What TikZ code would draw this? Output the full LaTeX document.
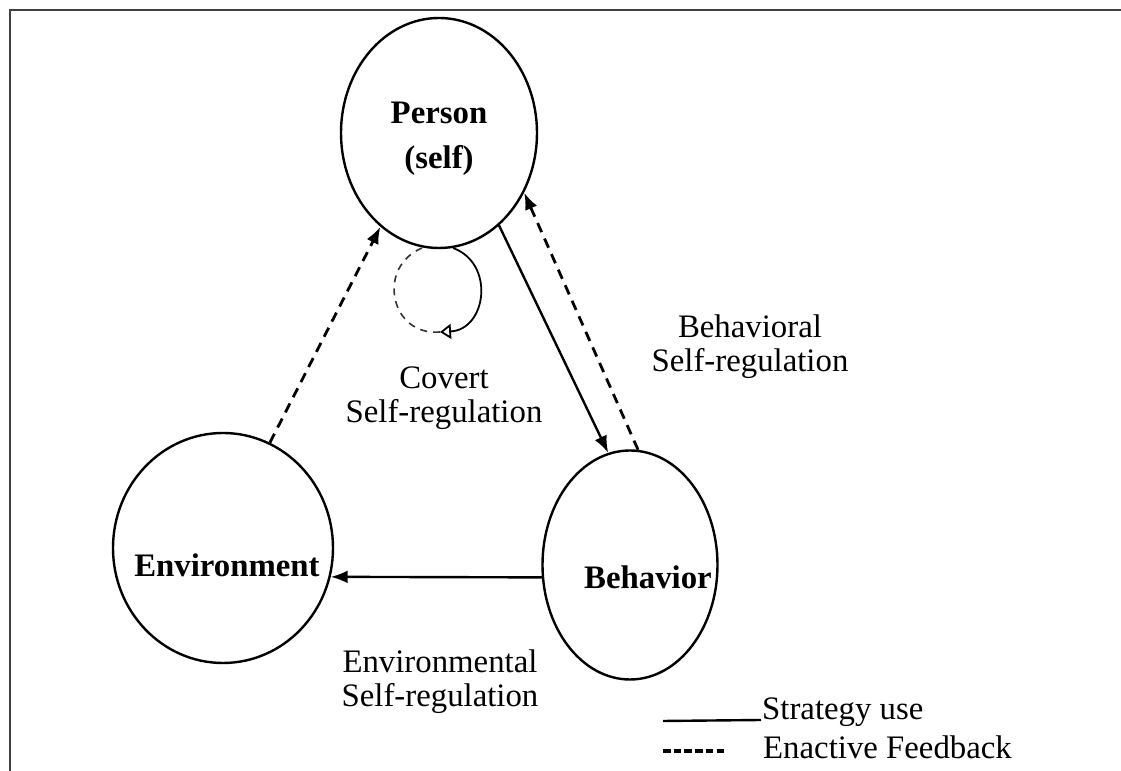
\documentclass[tikz,border=0pt]{standalone}
\usepackage{fontspec}
\setmainfont{Liberation Serif}
\usetikzlibrary{arrows.meta,shapes.geometric}

\begin{document}
\begin{tikzpicture}[x=.5pt,y=.5pt,line width=1.2pt,
        every node/.style={font=\fontsize{16.4}{17}\selectfont},
        agent/.style={draw,ellipse,inner sep=0pt},
        agentname/.style={font=\fontsize{16.4}{22.5}\selectfont\bfseries,align=center},
        strategy/.style={-{Latex[length=8.5pt,width=6.5pt]}},
        feedback/.style={-{Latex[length=8.5pt,width=6.5pt]},line width=1.4pt,dash pattern=on 5pt off 3.5pt},
        caption/.style={align=center}]
    \useasboundingbox (0,0) rectangle (1121,771);
    \draw[black!75] (1121,761) -- (10,761) -- (10,0);

    \node[agent,minimum width=98pt,minimum height=115pt,
        label={[agentname,yshift=-3pt]center:Person\\(self)}] (person) at (439,638) {};
    \node[agent,minimum width=110pt,minimum height=115pt,
        label={[agentname,xshift=2pt,yshift=-8.5pt]center:Environment}] (env) at (223,223) {};
    \node[agent,minimum width=87.5pt,minimum height=114.5pt,
        label={[agentname,xshift=9pt,yshift=-6pt]center:Behavior}] (beh) at (630,206) {};

    \draw[feedback] (env.66.5) -- (person.238.7);
    \draw[strategy] (person.-57.3) -- (beh.101.8);
    \draw[feedback] (beh.86) -- (person.-35.3);
    \draw[strategy] (beh.188.7) -- (env.-15.8);

    % covert loop under the person
    \coordinate (loopend) at (440,439);
    \draw[line width=.9pt,-{Triangle[open,length=5.5pt,width=7.5pt]}] (person.-83.5)
        .. controls (495.6,507.1) and (486.3,441.4) .. (loopend);
    \draw[line width=.8pt,black!80,dash pattern=on 3.5pt off 3pt] (loopend)
        .. controls (390.3,434.5) and (375.5,504.4) .. (person.-98.4);

    \node[caption] (covert) at (444,373) {Covert\\Self-regulation};
    \node[caption] (behreg) at (750,424) {Behavioral\\Self-regulation};
    \node[caption] (envreg) at (440,89) {Environmental\\Self-regulation};

    % legend
    \node[anchor=base west,inner sep=0pt] (strat) at (761,51) {Strategy use};
    \node[anchor=base west,inner sep=0pt] (enact) at (762,12) {Enactive Feedback};
    \coordinate (solidstart) at (663,50);
    \coordinate (dashstart) at (663,20);
    \coordinate (dashend) at (725,20);
    \draw (solidstart) -- (strat.base west);
    \draw[line width=1.6pt,dash pattern=on 3.75pt off 1.6pt] (dashstart) -- (dashend);
\end{tikzpicture}
\end{document}
